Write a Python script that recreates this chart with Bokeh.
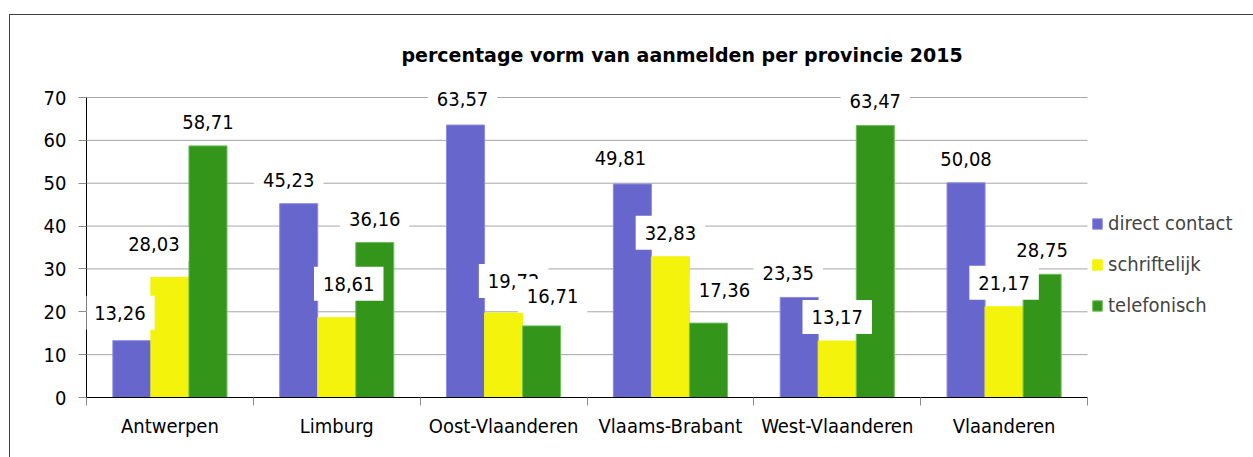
from bokeh.plotting import figure
from bokeh.models import Legend, LegendItem, FixedTicker, Label, Range1d, ColumnDataSource
from bokeh.embed import file_html
from bokeh.resources import INLINE

# ---- data ----
categories = ["Antwerpen", "Limburg", "Oost-Vlaanderen", "Vlaams-Brabant", "West-Vlaanderen", "Vlaanderen"]
direct_contact = [13.26, 45.23, 63.57, 49.81, 23.35, 50.08]
schriftelijk = [28.03, 18.61, 19.72, 32.83, 13.17, 21.17]
telefonisch = [58.71, 36.16, 16.71, 17.36, 63.47, 28.75]
series_names = ["direct contact", "schriftelijk", "telefonisch"]
y_ticks = [0, 10, 20, 30, 40, 50, 60, 70]
title_text = "percentage vorm van aanmelden  per provincie 2015"

# ---- style ----
FONT = "DejaVu Sans Condensed"
colors = ["#6666CC", "#F3F30B", "#33961A"]
edges = ["#8c8ce0", "#F3F30B", "#6fbf5f"]
grid_color = "#a6a6a6"
# label nudges in screen px (dx right, dy up) per series / category
label_dx = [[-12, -10, -3, -12, -11, 0], [-16, 12, 10, 0, 0, 0], [0, 0, 11, 16, 0, 0]]
label_dy = [[4, 0, 2, 2, 0, 0], [9, 10, 8, 0, 0, 0], [0, 0, 6, 9, 0, 0]]

series = [direct_contact, schriftelijk, telefonisch]
n = len(categories)
xs = [i + 0.5 for i in range(n)]
bar_w = 0.228
y_max = y_ticks[-1]

# canvas geometry (px)
W, H = 1244, 443
BL, BR, BT, BB = 77, 8, 61, 60
axis_px_x = 1001   # pixel width of the category axis
axis_px_y = 300    # pixel height of the value axis
frame_w = W - BL - BR
frame_h = H - BT - BB
x_end = n * frame_w / axis_px_x
y_end = y_max * frame_h / axis_px_y

p = figure(width=W, height=H, x_range=Range1d(0, x_end), y_range=Range1d(0, y_end),
           output_backend="svg", toolbar_location=None,
           min_border_left=BL, min_border_right=BR, min_border_top=BT, min_border_bottom=BB)
p.margin = (14, 0, 0, 9)
p.styles = {"box-shadow": "inset 1px 1px 0 0 #404040"}
p.border_fill_color = None
p.background_fill_color = None
p.outline_line_color = None

p.title.text = title_text
p.title.text_font = "DejaVu Sans"
p.title.text_font_size = "19px"
p.title.text_font_style = "bold"
p.title.text_color = "black"
p.title.align = "left"
p.title.offset = 315
p.title.standoff = 19

p.xgrid.visible = False
p.ygrid.visible = False
# horizontal gridlines limited to the category axis
p.segment(x0=[0] * (len(y_ticks) - 1), x1=[n] * (len(y_ticks) - 1),
          y0=y_ticks[1:], y1=y_ticks[1:], line_color=grid_color, line_width=1)

yax = p.yaxis[0]
yax.ticker = FixedTicker(ticks=y_ticks)
yax.bounds = (0, y_max)
yax.axis_line_color = "black"
yax.major_tick_out = 8
yax.major_tick_in = 0
yax.major_tick_line_color = "#8c8c8c"
yax.minor_tick_line_color = None
yax.major_label_text_font = FONT
yax.major_label_text_font_size = "20px"
yax.major_label_text_color = "black"
yax.major_label_standoff = 12

xax = p.xaxis[0]
xax.ticker = FixedTicker(ticks=xs, minor_ticks=list(range(n + 1)))
xax.bounds = (0, n)
xax.major_label_overrides = {x: c for x, c in zip(xs, categories)}
xax.axis_line_color = "black"
xax.major_tick_out = 0
xax.major_tick_in = 0
xax.minor_tick_out = 8
xax.minor_tick_in = 0
xax.minor_tick_line_color = "#8c8c8c"
xax.major_label_text_font = FONT
xax.major_label_text_font_size = "20px"
xax.major_label_text_color = "black"
xax.major_label_standoff = 8

renderers = []
for k, vals in enumerate(series):
    off = (k - 1) * bar_w
    src = ColumnDataSource(dict(x=[x + off for x in xs], top=vals))
    r = p.vbar(x="x", top="top", width=bar_w, bottom=0, source=src,
               fill_color=colors[k], line_color=edges[k], line_width=1)
    renderers.append(r)

for k, vals in enumerate(series):
    off = (k - 1) * bar_w
    for i, v in enumerate(vals):
        lab = Label(x=xs[i] + off, y=v, text=f"{v:.2f}".replace(".", ","),
                    x_offset=label_dx[k][i], y_offset=24 + label_dy[k][i],
                    text_align="center", text_baseline="middle",
                    text_font=FONT, text_font_size="20px", text_color="black",
                    background_fill_color="white", padding=dict(x=9, y=10))
        p.add_layout(lab)

legend = Legend(items=[LegendItem(label=nm, renderers=[r]) for nm, r in zip(series_names, renderers)],
                location=(1005, 80), orientation="vertical",
                glyph_width=12, glyph_height=13, label_standoff=5, spacing=17, label_height=23,
                padding=0, margin=0, border_line_color=None, background_fill_color=None,
                label_text_font=FONT, label_text_font_size="20px")
p.add_layout(legend)

open("out.html", "w").write(file_html(p, INLINE))
